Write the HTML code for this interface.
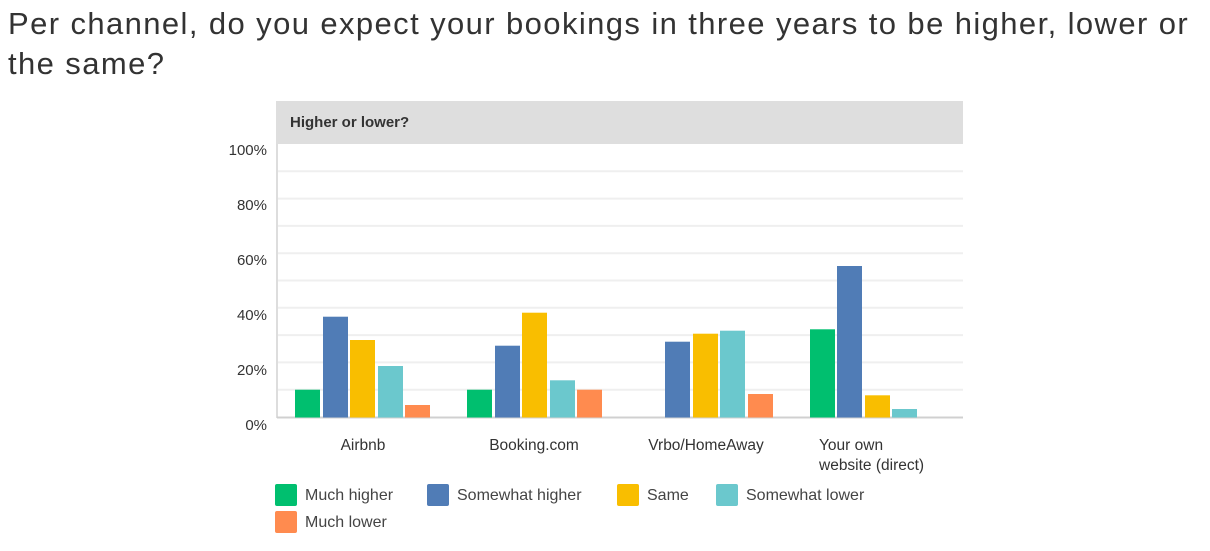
<!DOCTYPE html>
<html><head><style>
body{margin:0;width:1210px;height:551px;background:#fff;font-family:"Liberation Sans",sans-serif;color:#333;position:relative;overflow:hidden}
.t{position:absolute;left:8px;top:4px;font-size:31px;line-height:40px;color:#333;width:1205px;letter-spacing:1.4px;white-space:nowrap}
.a{position:absolute}
.lg{position:absolute;font-size:16px;color:#444}
.lg i{position:absolute;width:22px;height:22px;border-radius:2px;left:0;top:0}
.lg span{position:absolute;left:30px;top:3px;white-space:nowrap}
</style></head><body>
<div class="t">Per channel, do you expect your bookings in three years to be higher, lower or<br>the same?</div>
<svg class="a" style="left:0;top:0" width="1210" height="551">
<rect x="276" y="101" width="687" height="43" fill="#dedede"/>
<text x="290" y="127" font-size="15" font-weight="bold" fill="#333" font-family="Liberation Sans">Higher or lower?</text>
<g stroke="#efefef" stroke-width="2">
<line x1="277" x2="963" y1="171.3" y2="171.3"/><line x1="277" x2="963" y1="198.6" y2="198.6"/><line x1="277" x2="963" y1="225.9" y2="225.9"/><line x1="277" x2="963" y1="253.2" y2="253.2"/><line x1="277" x2="963" y1="280.5" y2="280.5"/><line x1="277" x2="963" y1="307.8" y2="307.8"/><line x1="277" x2="963" y1="335.1" y2="335.1"/><line x1="277" x2="963" y1="362.4" y2="362.4"/><line x1="277" x2="963" y1="389.7" y2="389.7"/>
</g>
<line x1="277" x2="277" y1="144" y2="418" stroke="#ddd" stroke-width="2"/>
<line x1="277" x2="963" y1="417.5" y2="417.5" stroke="#d0d0d0" stroke-width="2"/>
<g font-size="15" fill="#333" text-anchor="end" font-family="Liberation Sans">
<text x="267" y="155">100%</text><text x="267" y="210">80%</text><text x="267" y="265">60%</text><text x="267" y="320">40%</text><text x="267" y="375">20%</text><text x="267" y="430">0%</text>
</g>
<g>
<rect x="295" y="389.7" width="25" height="27.8" fill="#00bf6f"/>
<rect x="323" y="316.7" width="25" height="100.8" fill="#507cb6"/>
<rect x="350" y="340" width="25" height="77.5" fill="#f9be00"/>
<rect x="378" y="366" width="25" height="51.5" fill="#6bc8cd"/>
<rect x="405" y="405" width="25" height="12.5" fill="#ff8b4f"/>
<rect x="467" y="389.7" width="25" height="27.8" fill="#00bf6f"/>
<rect x="495" y="345.7" width="25" height="71.8" fill="#507cb6"/>
<rect x="522" y="312.7" width="25" height="104.8" fill="#f9be00"/>
<rect x="550" y="380.3" width="25" height="37.2" fill="#6bc8cd"/>
<rect x="577" y="389.7" width="25" height="27.8" fill="#ff8b4f"/>
<rect x="665" y="341.7" width="25" height="75.8" fill="#507cb6"/>
<rect x="693" y="333.7" width="25" height="83.8" fill="#f9be00"/>
<rect x="720" y="330.7" width="25" height="86.8" fill="#6bc8cd"/>
<rect x="748" y="394" width="25" height="23.5" fill="#ff8b4f"/>
<rect x="810" y="329.3" width="25" height="88.2" fill="#00bf6f"/>
<rect x="837" y="266" width="25" height="151.5" fill="#507cb6"/>
<rect x="865" y="395.3" width="25" height="22.2" fill="#f9be00"/>
<rect x="892" y="409" width="25" height="8.5" fill="#6bc8cd"/>
</g>
<g font-size="15.5" fill="#333" font-family="Liberation Sans">
<text x="363" y="450" text-anchor="middle">Airbnb</text>
<text x="534" y="450" text-anchor="middle">Booking.com</text>
<text x="706" y="450" text-anchor="middle">Vrbo/HomeAway</text>
<text x="819" y="450">Your own</text>
<text x="819" y="470">website (direct)</text>
</g>
</svg>
<div class="lg" style="left:275px;top:484px"><i style="background:#00bf6f"></i><span>Much higher</span></div>
<div class="lg" style="left:427px;top:484px"><i style="background:#507cb6"></i><span>Somewhat higher</span></div>
<div class="lg" style="left:617px;top:484px"><i style="background:#f9be00"></i><span>Same</span></div>
<div class="lg" style="left:716px;top:484px"><i style="background:#6bc8cd"></i><span>Somewhat lower</span></div>
<div class="lg" style="left:275px;top:511px"><i style="background:#ff8b4f"></i><span>Much lower</span></div>
</body></html>
